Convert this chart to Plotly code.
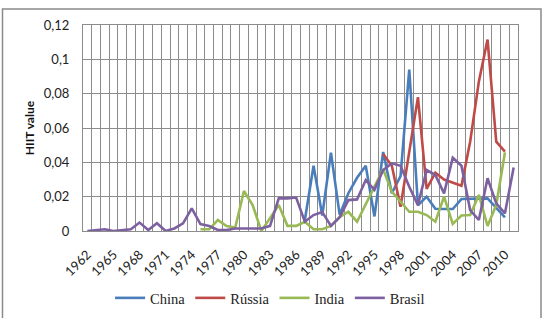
import plotly.graph_objects as go

years = list(range(1962, 2012))

china_start = 1987
china = [0.0064, 0.038, 0.009, 0.0456, 0.0095, 0.022, 0.031, 0.038, 0.0085, 0.046,
         0.022, 0.032, 0.094, 0.015, 0.020, 0.013, 0.0128, 0.0128, 0.0186, 0.0186,
         0.019, 0.019, 0.0135, 0.008]

russia_start = 1996
russia = [0.0448, 0.038, 0.0141, 0.046, 0.078, 0.0245, 0.034, 0.030, 0.028, 0.0264,
          0.052, 0.087, 0.1115, 0.052, 0.0462]

india_start = 1975
india = [0.001, 0.001, 0.0064, 0.0029, 0.002, 0.0233, 0.0151, 0.0, 0.0075, 0.0151,
         0.003, 0.003, 0.0054, 0.001, 0.001, 0.003, 0.008, 0.0112, 0.0054, 0.0155,
         0.026, 0.036, 0.0229, 0.017, 0.0112, 0.0112, 0.0093, 0.0054, 0.020, 0.0041,
         0.009, 0.0093, 0.021, 0.0029, 0.0151, 0.0458]

brasil_start = 1962
brasil = [0.0, 0.0003, 0.001, 0.0, 0.0006, 0.001, 0.0049, 0.0006, 0.0045, 0.0,
          0.0015, 0.0045, 0.0132, 0.004, 0.0029, 0.0006, 0.0006, 0.0015, 0.0015, 0.0015,
          0.0015, 0.003, 0.019, 0.019, 0.0195, 0.0054, 0.0093, 0.011, 0.003, 0.008,
          0.018, 0.0184, 0.0297, 0.024, 0.0355, 0.0394, 0.038, 0.0258, 0.0151, 0.0355,
          0.0326, 0.0219, 0.0427, 0.038, 0.0122, 0.0064, 0.0307, 0.0161, 0.0103, 0.037]

series_names = ["China", "Rússia", "India", "Brasil"]
series_colors = ["#4A7EBB", "#BE4B48", "#98B954", "#7D60A0"]
series_data = [(china_start, china), (russia_start, russia),
               (india_start, india), (brasil_start, brasil)]

y_ticks = [0, 0.02, 0.04, 0.06, 0.08, 0.1, 0.12]
y_tick_text = ["0", "0,02", "0,04", "0,06", "0,08", "0,1", "0,12"]
x_ticks = list(range(1962, 2011, 3))

fig = go.Figure()
for name, color, (start, vals) in zip(series_names, series_colors, series_data):
    xs = list(range(start, start + len(vals)))
    fig.add_trace(go.Scatter(x=xs, y=vals, mode="lines", name=name,
                             line=dict(color=color, width=2.6)))

grid_color = "#8c8c8c"
serif = "Liberation Serif, Times New Roman, serif"
sans = "Lato, Open Sans, sans-serif"
fig.update_layout(
    width=544, height=318,
    margin=dict(l=83, r=26, t=25, b=87, autoexpand=False),
    paper_bgcolor="white", plot_bgcolor="white",
    showlegend=True,
    legend=dict(orientation="h", x=0.43, xanchor="center", y=-0.325, yanchor="middle",
                font=dict(family=serif, size=14.5, color="#222"),
                itemwidth=30, tracegroupgap=0, bgcolor="rgba(0,0,0,0)"),
    xaxis=dict(range=[1961.5, 2011.5], tickmode="array", tickvals=x_ticks,
               ticktext=[str(v) for v in x_ticks], tickangle=-45,
               showgrid=False, zeroline=False, ticks="", automargin=False,
               ticklabelstandoff=10,
               showline=True, linecolor=grid_color, linewidth=1, mirror=True,
               minor=dict(tick0=1961.5, dtick=1, showgrid=True, gridcolor=grid_color,
                          gridwidth=1, ticks=""),
               tickfont=dict(family=sans, size=13, color="#222")),
    yaxis=dict(range=[0, 0.12], tickmode="array", tickvals=y_ticks, ticktext=y_tick_text,
               showgrid=True, gridcolor=grid_color, gridwidth=1, zeroline=False,
               showline=True, linecolor=grid_color, linewidth=1, mirror=True,
               ticks="", ticklabelstandoff=10, automargin=False,
               tickfont=dict(family=sans, size=13, color="#222"),
               title=dict(text="<b>HIIT value</b>", standoff=6,
                          font=dict(family=sans, size=12, color="#111"))),
    shapes=[dict(type="rect", xref="paper", yref="paper",
                 x0=(2.5 - 83) / 435, x1=(541 - 83) / 435,
                 y0=(231 - 330) / 206, y1=(231 - 9) / 206,
                 line=dict(color="#8a8a8a", width=1.5), fillcolor="rgba(0,0,0,0)",
                 layer="below")],
)

fig.write_html("out.html")
